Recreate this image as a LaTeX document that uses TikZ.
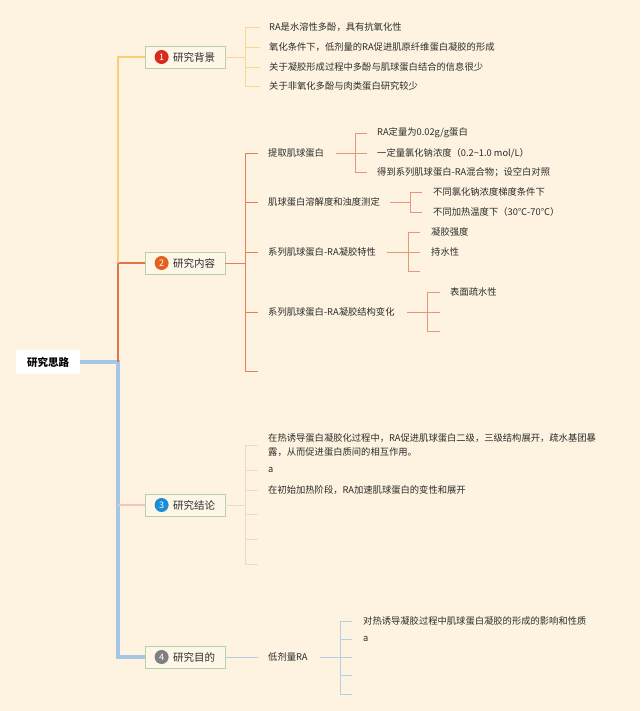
\documentclass[tikz,border=0pt]{standalone}
\usepackage{fontspec}
\setmainfont{Noto Sans CJK SC}
\usepackage{tikz}
\usetikzlibrary{positioning}

\definecolor{bgcream}{HTML}{FDF3E0}
\definecolor{boxgreen}{HTML}{B2D2AA}
\definecolor{boxfill}{HTML}{FEF6E7}
\definecolor{textgray}{HTML}{2B2B2B}
\definecolor{trunkyellow}{HTML}{F7CF74}
\definecolor{trunkorange}{HTML}{E1724A}
\definecolor{trunkblue}{HTML}{A5C6E6}
\definecolor{trunkpink}{HTML}{F3C6B9}
\definecolor{lineyellow}{HTML}{F6D891}
\definecolor{lineorange}{HTML}{E57F5C}
\definecolor{lineorangelight}{HTML}{E9957A}
\definecolor{linepink}{HTML}{F0D8C9}
\definecolor{lineblue}{HTML}{B7CFE6}
\definecolor{badgered}{HTML}{D62A1E}
\definecolor{badgeorange}{HTML}{E2621B}
\definecolor{badgeblue}{HTML}{1C8CD5}
\definecolor{badgegray}{HTML}{7F7F7F}

\tikzset{
  rootbox/.style={fill=white, minimum width=64pt, minimum height=24pt, inner sep=0pt,
    font=\fontsize{10.5}{12}\selectfont\bfseries, text=black},
  mainbox/.style={draw=boxgreen, fill=boxfill, line width=0.8pt, minimum width=80pt,
    minimum height=22pt, inner sep=0pt, font=\fontsize{10.5}{12}\selectfont, text=textgray},
  badge/.style={circle, inner sep=0pt, minimum size=14pt, text=white,
    font=\fontsize{9}{10}\selectfont},
  leaf/.style={anchor=west, inner sep=0pt, font=\fontsize{9.3}{14}\selectfont, text=textgray},
  trunkline/.style={line width=#1},
  brone/.style={draw=lineyellow, line width=0.7pt},
  brtwo/.style={draw=lineorange, line width=0.9pt},
  brtwosub/.style={draw=lineorangelight, line width=0.7pt},
  brthree/.style={draw=linepink, line width=0.7pt},
  brfour/.style={draw=lineblue, line width=0.8pt}
}

\begin{document}
\begin{tikzpicture}[x=1pt, y=-1pt]
\fill[bgcream] (0,0) rectangle (640,711);
\useasboundingbox (0,0) rectangle (640,711);

% root and the four main topics
\node[rootbox] (root) at (48,362) {研究思路};
\node[mainbox] (b1) at (185,57) {\hspace{18pt}研究背景};
\node[mainbox] (b2) at (185,263) {\hspace{18pt}研究内容};
\node[mainbox] (b3) at (185,505) {\hspace{18pt}研究结论};
\node[mainbox] (b4) at (185,657) {\hspace{18pt}研究目的};
\node[badge, fill=badgered] at ([xshift=17pt]b1.west) {1};
\node[badge, fill=badgeorange] at ([xshift=17pt]b2.west) {2};
\node[badge, fill=badgeblue] at ([xshift=17pt]b3.west) {3};
\node[badge, fill=badgegray] at ([xshift=17pt]b4.west) {4};

% trunk
\coordinate (trunk) at (118,362);
\draw[trunkline=3.2pt, trunkblue] (root.east) -- (trunk) |- (b4.west);
\draw[trunkline=2.6pt, trunkorange] (trunk) |- (b2.west);
\draw[trunkline=2pt, trunkyellow] (trunk |- b2.west) |- (b1.west);
\draw[trunkline=1.2pt, trunkpink] (trunk |- b3.west) -- (b3.west);

% 1 研究背景
\coordinate (j1) at (245,57);
\draw[brone] (b1.east) -- (j1);
\foreach \i/\y/\txt in {1/27/{RA是水溶性多酚，具有抗氧化性},
    2/47/{氧化条件下，低剂量的RA促进肌原纤维蛋白凝胶的形成},
    3/67/{关于凝胶形成过程中多酚与肌球蛋白结合的信息很少},
    4/86/{关于非氧化多酚与肉类蛋白研究较少}} {
  \node[leaf] (t1\i) at (269,\y) {\txt};
  \draw[brone] (j1) |- ([xshift=-9pt]t1\i.west);
}

% 2 研究内容
\coordinate (j2) at (245,263);
\draw[brtwo] (b2.east) -- (j2);
\node[leaf] (c1) at (268,153) {提取肌球蛋白};
\node[leaf] (c2) at (268,202) {肌球蛋白溶解度和浊度测定};
\node[leaf] (c3) at (268,252) {系列肌球蛋白-RA凝胶特性};
\node[leaf] (c4) at (268,312) {系列肌球蛋白-RA凝胶结构变化};
\coordinate (c5) at (258,371);
\foreach \n in {c1,c2,c3,c4}
  \draw[brtwo] (j2) |- ([xshift=-10pt]\n.west);
\draw[brtwo] (j2) |- (c5);

\coordinate (j21) at (355,153);
\draw[brtwosub] ([xshift=12pt]c1.east) -- (j21);
\foreach \i/\y/\txt in {1/133/{RA定量为0.02g/g蛋白},
    2/153/{一定量氯化钠浓度（0.2\textasciitilde1.0 mol/L）},
    3/172/{得到系列肌球蛋白-RA混合物；设空白对照}} {
  \node[leaf] (d1\i) at (377,\y) {\txt};
  \draw[brtwosub] (j21) |- ([xshift=-10pt]d1\i.west);
}

\coordinate (j22) at (410,202);
\draw[brtwosub] ([xshift=10pt]c2.east) -- (j22);
\foreach \i/\y/\txt in {1/192/{不同氯化钠浓度梯度条件下},
    2/212/{不同加热温度下（30℃-70℃）}} {
  \node[leaf] (d2\i) at (433,\y) {\txt};
  \draw[brtwosub] (j22) |- ([xshift=-11pt]d2\i.west);
}

\coordinate (j23) at (408,252);
\draw[brtwosub] ([xshift=11pt]c3.east) -- (j23);
\node[leaf] (d31) at (431,232) {凝胶强度};
\node[leaf] (d32) at (431,252) {持水性};
\coordinate (d33) at (420,271);
\draw[brtwosub] (j23) |- ([xshift=-11pt]d31.west);
\draw[brtwosub] (j23) |- ([xshift=-11pt]d32.west);
\draw[brtwosub] (j23) |- (d33);

\coordinate (j24) at (427,312);
\draw[brtwosub] ([xshift=12pt]c4.east) -- (j24);
\node[leaf] (d41) at (450,292) {表面疏水性};
\coordinate (d42) at (440,312);
\coordinate (d43) at (440,331);
\draw[brtwosub] (j24) |- ([xshift=-10pt]d41.west);
\draw[brtwosub] (j24) |- (d42);
\draw[brtwosub] (j24) |- (d43);

% 3 研究结论
\coordinate (j3) at (245,505);
\draw[brthree] (b3.east) -- (j3);
\node[leaf, align=left] (e1) at (268,445)
  {在热诱导蛋白凝胶化过程中，RA促进肌球蛋白二级，三级结构展开，疏水基团暴\\露，从而促进蛋白质间的相互作用。};
\node[leaf] (e2) at (268,470) {a};
\node[leaf] (e3) at (268,490) {在初始加热阶段，RA加速肌球蛋白的变性和展开};
\coordinate (e4) at (258,514);
\coordinate (e5) at (258,539);
\coordinate (e6) at (258,564);
\foreach \n in {e1,e2,e3}
  \draw[brthree] (j3) |- ([xshift=-10pt]\n.west);
\foreach \n in {e4,e5,e6}
  \draw[brthree] (j3) |- (\n);

% 4 研究目的
\node[leaf] (f1) at (268,657) {低剂量RA};
\draw[brfour] (b4.east) -- ([xshift=-10pt]f1.west);
\coordinate (j4) at (340,657);
\draw[brfour] ([xshift=12pt]f1.east) -- (j4);
\node[leaf] (g1) at (363,621) {对热诱导凝胶过程中肌球蛋白凝胶的形成的影响和性质};
\node[leaf] (g2) at (363,639) {a};
\coordinate (g3) at (352,657);
\coordinate (g4) at (352,675);
\coordinate (g5) at (352,694);
\draw[brfour] (j4) |- ([xshift=-11pt]g1.west);
\draw[brfour] (j4) |- ([xshift=-11pt]g2.west);
\foreach \n in {g3,g4,g5}
  \draw[brfour] (j4) |- (\n);
\end{tikzpicture}
\end{document}
